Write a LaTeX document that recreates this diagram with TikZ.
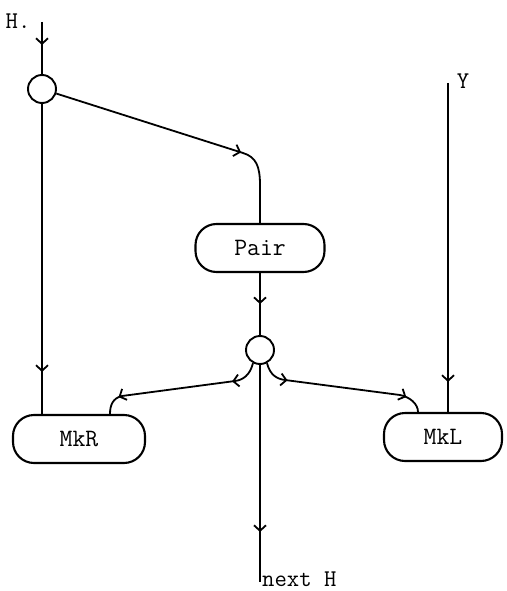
\documentclass[tikz,border=0pt]{standalone}
\usetikzlibrary{arrows.meta,decorations.markings}
\begin{document}
\begin{tikzpicture}[x=1pt,y=-1pt,
  wire/.style={line width=1.8pt},
  barbtip/.tip={Straight Barb[length=5.5pt,width=12pt,line width=1.8pt]},
  barb at/.style={decoration={markings,
      mark=at position #1 with {\arrow{barbtip}}}, postaction=decorate},
  barbs at/.style 2 args={decoration={markings,
      mark=at position #1 with {\arrow{barbtip}},
      mark=at position #2 with {\arrow{barbtip}}}, postaction=decorate},
  fn/.style={draw, line width=2.1pt, rounded corners=21pt,
      minimum height=48pt, inner sep=0pt, font=\fontsize{25}{28}\selectfont\ttfamily},
  junction/.style={circle, draw, line width=1.9pt, minimum size=28pt, inner sep=0pt},
  lbl/.style={inner sep=0pt, font=\fontsize{24}{27}\selectfont\ttfamily}]
\useasboundingbox (0,0) rectangle (506,591);

% boxes and junctions
\node[junction] (top) at (42,89) {};
\node[fn, minimum width=129pt] (pair) at (260,248) {Pair};
\node[junction] (mid) at (260,350) {};
\node[fn, minimum width=132pt] (mkr) at (79,439) {MkR};
\node[fn, minimum width=118pt] (mkl) at (443,437) {MkL};

% free ends
\coordinate (hin) at (42,22);
\coordinate (yin) at (448,83);
\coordinate (nexth) at (260,582);

% labels
\node[lbl] (hlab) at (18,21) {H.};
\node[lbl] (ylab) at (463,81) {Y};
\node[lbl, anchor=base west] (nlab) at (262,586) {next H};

% connectors
\draw[wire, barb at=23pt] (hin) -- (top);
\draw[wire, barb at=194pt] (top) -- (243,153)
  .. controls (256,157) and (260,166) .. (260,185) -- (pair.north);
\draw[wire, barb at=31pt] (pair) -- (mid);
\draw[wire, barb at=-42pt] (top) -- (top |- mkr.north);
\draw[wire, barb at=-30pt] (yin) -- (yin |- mkl.north);
\draw[wire, barb at=-50pt] (mid) -- (nexth);
\draw[wire, barbs at={30pt}{-20pt}] (mid.242)
  .. controls (250,375) and (243,380) .. (235,381) -- (122,396)
  .. controls (113,398) and (110,405) .. ([xshift=31pt]mkr.north);
\draw[wire, barbs at={29pt}{-20pt}] (mid.298)
  .. controls (270,375) and (277,379) .. (285,380) -- (400,395)
  .. controls (410,397) and (418,404) .. ([xshift=-25pt]mkl.north);
\end{tikzpicture}
\end{document}
